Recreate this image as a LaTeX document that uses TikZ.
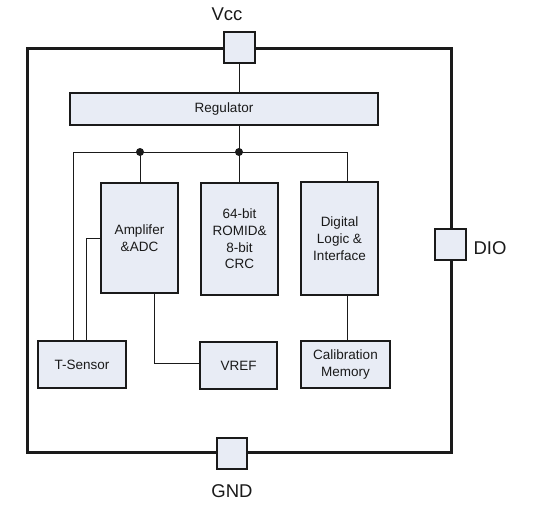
\documentclass[tikz,border=0pt]{standalone}
\usepackage{fontspec}
\setmainfont{Liberation Sans}
\definecolor{boxfill}{HTML}{E8ECF5}
\definecolor{ink}{HTML}{1A1A1A}
\begin{document}
\begin{tikzpicture}[x=1pt,y=-1pt,
  blk/.style={draw=ink, line width=1.2pt, fill=boxfill, inner sep=0pt, outer sep=0pt,
    align=center, font=\fontsize{13.5}{16.7}\selectfont, text=ink},
  pad/.style={draw=ink, line width=1.2pt, fill=boxfill, inner sep=0pt, outer sep=0pt,
    minimum width=31pt, minimum height=31pt},
  pinlbl/.style={font=\fontsize{18.5}{20}\selectfont, text=ink, inner sep=0pt},
  wire/.style={draw=ink, line width=1pt},
  dot/.style={fill=ink, circle, inner sep=0pt, minimum size=8pt}]
\useasboundingbox (0,0) rectangle (534,508);
% outer frame
\draw[ink, line width=3pt] (27,49) rectangle (451,452);
% pads
\node[pad] (vcc) at (239.5,47.5) {};
\node[pad] (dio) at (450.5,244.5) {};
\node[pad, minimum width=30pt] (gnd) at (232,453.5) {};
\node[pinlbl] (vcclbl) at (227,14) {Vcc};
\node[pinlbl] (diolbl) at (490,248) {DIO};
\node[pinlbl] (gndlbl) at (232,491) {GND};
% blocks
\node[blk, minimum width=308pt, minimum height=32pt] (reg) at (224,109) {Regulator};
\node[blk, minimum width=77pt, minimum height=110pt] (amp) at (139.5,238) {Amplifer\\\&ADC};
\node[blk, minimum width=77pt, minimum height=112pt] (rom) at (239.5,239) {64-bit\\ROMID\&\\8-bit\\CRC};
\node[blk, minimum width=77pt, minimum height=113pt] (dig) at (339.5,238.5) {Digital\\Logic \&\\Interface};
\node[blk, minimum width=88pt, minimum height=47pt] (tsen) at (82,364.5) {T-Sensor};
\node[blk, minimum width=77pt, minimum height=47pt] (vref) at (238.5,365.5) {VREF};
\node[blk, minimum width=89pt, minimum height=47pt] (cal) at (345.5,364.5) {Calibration\\Memory};
% junctions
\coordinate (bl) at (73,152);
\coordinate (br) at (347,152);
\coordinate (j1) at (140,152);
\coordinate (j2) at (239,152);
\coordinate (tk) at (86,238);
\coordinate (vk) at (154,363);
% wires
\draw[wire] (vcc.south) -- (vcc.south |- reg.north);
\draw[wire] (reg.south -| j2) -- (j2);
\draw[wire] (tsen.north -| bl) -- (bl) -- (br) -- (br |- dig.north);
\draw[wire] (j1) -- (j1 |- amp.north);
\draw[wire] (j2) -- (j2 |- rom.north);
\draw[wire] (amp.west |- tk) -- (tk) -- (tk |- tsen.north);
\draw[wire] (amp.south -| vk) -- (vk) -- (vk -| vref.west);
\draw[wire] (dig.south -| br) -- (br |- cal.north);
\node[dot] (d1) at (j1) {};
\node[dot] (d2) at (j2) {};
\end{tikzpicture}
\end{document}
